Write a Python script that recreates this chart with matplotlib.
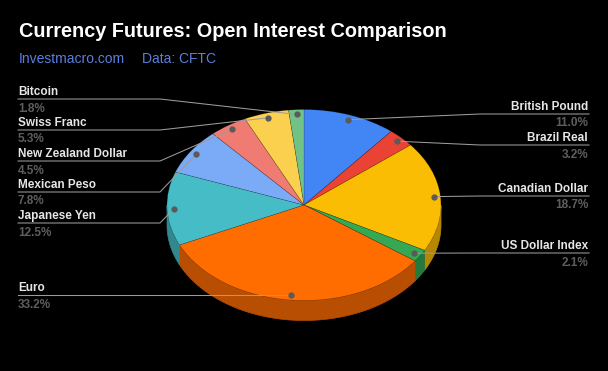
import numpy as np
import matplotlib
matplotlib.use("Agg")
import matplotlib.pyplot as plt
from matplotlib.patches import Polygon
from matplotlib.colors import to_rgb

# data, clockwise from 12 o'clock
currencies = ["British Pound", "Brazil Real", "Canadian Dollar", "US Dollar Index", "Euro",
              "Japanese Yen", "Mexican Peso", "New Zealand Dollar", "Swiss Franc", "Bitcoin"]
shares = [11.0, 3.2, 18.7, 2.1, 33.2, 12.5, 7.8, 4.5, 5.3, 1.8]
colors = ["#4285f4", "#ea4335", "#fbbc04", "#34a853", "#ff6d01",
          "#46bdc6", "#7baaf7", "#f07b72", "#fcd04f", "#71c287"]

# label layout in pixels: (side, y of the underline)
label_rows = {
    "British Pound": ("right", 114), "Brazil Real": ("right", 145),
    "Canadian Dollar": ("right", 196), "US Dollar Index": ("right", 253),
    "Euro": ("left", 295), "Japanese Yen": ("left", 223), "Mexican Peso": ("left", 192),
    "New Zealand Dollar": ("left", 161), "Swiss Franc": ("left", 130), "Bitcoin": ("left", 99),
}

W, H = 608, 371
cx, cy = 304, 205        # pie centre in pixels
rx, ry = 137, 95.5       # top ellipse radii in pixels
depth = 20 / ry          # side height in pie units

fig = plt.figure(figsize=(W / 100, H / 100), dpi=100, facecolor="black")
ax = fig.add_axes([0, 0, 1, 1])
wedges, _ = ax.pie(shares, colors=colors, startangle=90, counterclock=False,
                   wedgeprops=dict(linewidth=0.4, edgecolor="#00000040"))
ax.set_aspect("auto")
ax.set_xlim(-cx / rx, (W - cx) / rx)
ax.set_ylim(-(H - cy) / ry, cy / ry)
ax.set_facecolor("black")
ax.axis("off")
for w in wedges:
    w.set_zorder(3)


def px(x, y):
    # pixel position -> pie data units
    return (x - cx) / rx, (cy - y) / ry


# front rim of each slice
for w, c in zip(wedges, colors):
    t = np.radians(np.linspace(w.theta1, w.theta2, 300))
    t = t[np.sin(t) <= 0]
    if len(t) < 2:
        continue
    top = np.column_stack([np.cos(t), np.sin(t)])
    bot = np.column_stack([np.cos(t[::-1]), np.sin(t[::-1]) - depth])
    side = tuple(v * 0.72 for v in to_rgb(c))
    ax.add_patch(Polygon(np.vstack([top, bot]), closed=True, facecolor=side,
                         edgecolor=side, linewidth=0.5, zorder=2))

# labels with leader lines
line_col = "#9c9c9c"
for w, name, val in zip(wedges, currencies, shares):
    mid = np.radians((w.theta1 + w.theta2) / 2)
    dot = (0.95 * np.cos(mid), 0.95 * np.sin(mid))
    side, ly = label_rows[name]
    if side == "left":
        x0, xe = 18, 160
        pts = [px(x0, ly), px(xe, ly), dot] if name != "Euro" else [px(x0, ly), (dot[0], px(0, ly)[1])]
        ha, tx = "left", 18
    else:
        x0, xe = 589, 480
        pts = [px(x0, ly), px(xe, ly), dot]
        ha, tx = "right", 588
    xs, ys = zip(*pts)
    ax.plot(xs, ys, color=line_col, lw=0.75, zorder=4)
    ax.plot(*pts[-1], "o", ms=3.5, color="#5a5a5a", zorder=5)
    ax.text(*px(tx, ly - 4), name, ha=ha, va="baseline", fontsize=8.5, fontweight="bold",
            color="#e6e6e6", family="Liberation Sans")
    ax.text(*px(tx, ly + 12.5), f"{val:.1f}%", ha=ha, va="baseline", fontsize=8.5,
            fontweight="bold", color="#5e5e5e", family="Liberation Sans")

fig.text(19 / W, 1 - 37 / H, "Currency Futures: Open Interest Comparison", fontsize=14.3,
         fontweight="bold", color="white", family="Liberation Sans", va="baseline")
fig.text(19 / W, 1 - 63 / H, "Investmacro.com", fontsize=10, color="#5b7fdc",
         family="Liberation Sans", va="baseline")
fig.text(142 / W, 1 - 63 / H, "Data: CFTC", fontsize=10, color="#5b7fdc",
         family="Liberation Sans", va="baseline")

fig.savefig("out.png", dpi=100, facecolor="black")
